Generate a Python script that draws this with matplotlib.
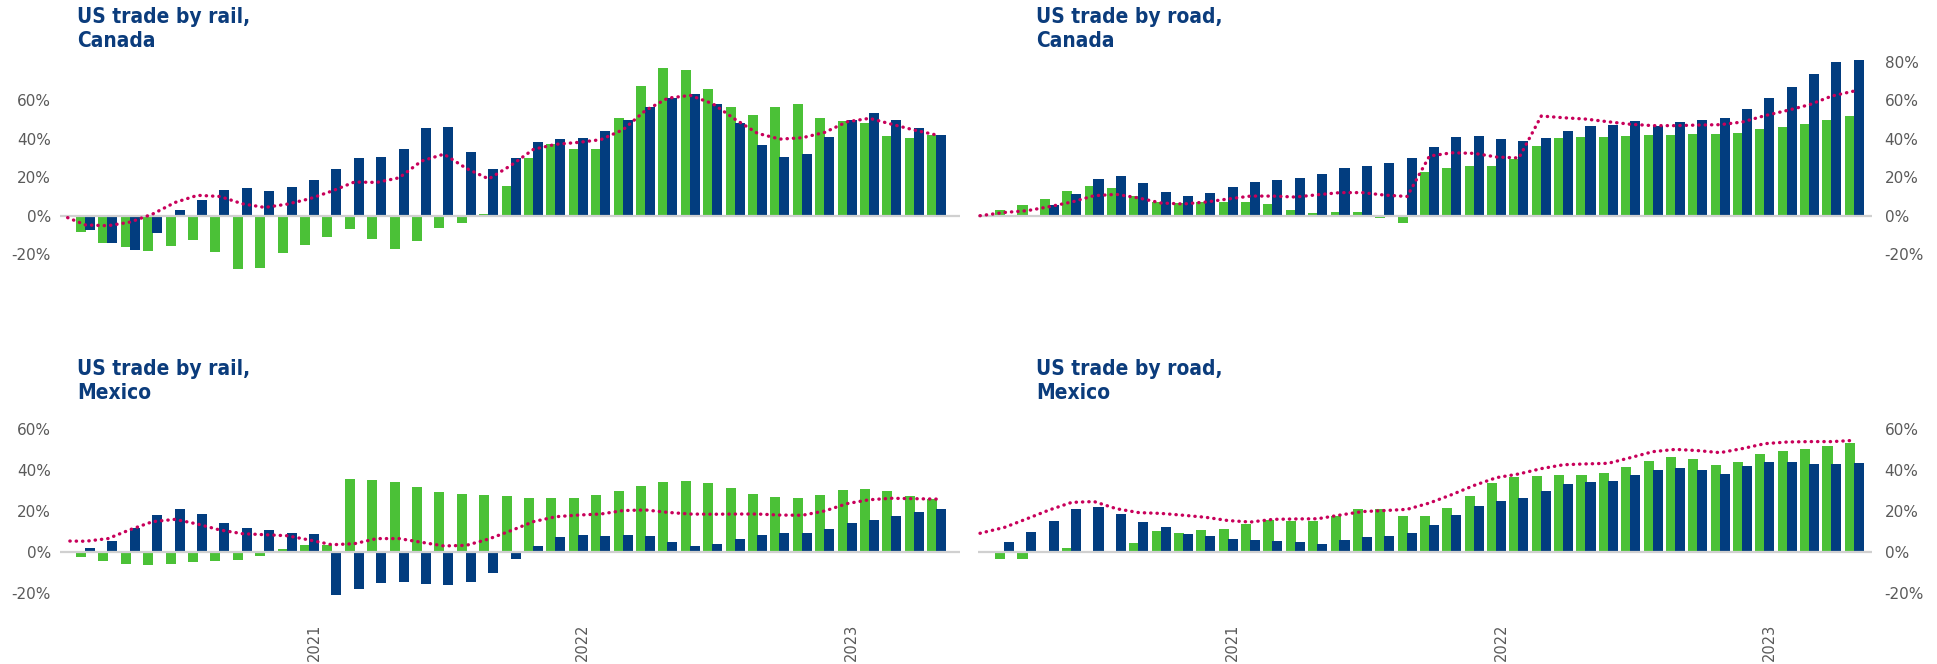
import numpy as np
import pandas as pd
import matplotlib
matplotlib.use("Agg")
import matplotlib.pyplot as plt

# months shown as bar pairs (Mar 2020 - May 2023)
months = pd.date_range("2020-03-01", "2023-05-01", freq="MS")

# US trade by rail, Canada (% change)
rail_ca_green = [-8.5, -14.2, -16.3, -18.4, -15.8, -12.6, -18.9, -27.7, -27.2, -19.4,
                 -15.2, -11.1, -6.9, -12.1, -17.3, -13.2, -6.4, -3.8, 0.9, 15.4,
                 30.0, 37.2, 34.6, 34.6, 50.7, 67.4, 76.7, 75.7, 65.8, 56.5,
                 52.3, 56.5, 58.0, 50.7, 49.2, 48.1, 41.4, 40.4, 41.9]
rail_ca_navy = [-7.4, -14.2, -17.8, -9.0, 2.9, 8.1, 13.3, 14.4, 12.8, 14.9,
                18.5, 24.2, 30.0, 30.5, 34.6, 45.5, 46.1, 33.1, 24.2, 30.0,
                38.3, 39.8, 40.4, 44.0, 49.7, 56.5, 61.1, 63.2, 58.0, 48.1,
                36.7, 30.5, 32.0, 40.9, 49.7, 53.3, 49.7, 45.5, 41.9]
rail_ca_line = [-1.0, -4.8, -5.2, -3.3, 0.9, 6.9, 10.6, 10.0, 6.2, 4.3, 6.0,
                8.8, 12.8, 17.5, 17.3, 19.7, 28.4, 32.0, 24.6, 19.1, 26.2,
                34.5, 37.1, 38.1, 39.5, 44.7, 54.7, 61.1, 62.5, 58.2, 50.1,
                42.8, 39.8, 40.5, 43.3, 48.8, 50.6, 47.5, 44.5, 41.9]

# US trade by road, Canada
road_ca_green = [2.8, 5.4, 8.5, 12.6, 15.2, 14.2, 10.0, 6.9, 6.4, 6.9,
                 6.9, 6.9, 5.9, 2.8, 1.2, 1.7, 1.7, -1.2, -4.0, 22.5,
                 24.6, 25.6, 25.6, 29.3, 36.0, 40.2, 40.7, 40.7, 41.2, 41.7,
                 41.7, 42.3, 42.3, 42.8, 44.9, 45.9, 47.5, 49.5, 51.6]
road_ca_navy = [-0.6, 0.3, 5.4, 11.1, 18.9, 20.4, 16.8, 12.1, 10.0, 11.6,
                14.7, 17.3, 18.4, 19.4, 21.5, 24.6, 25.6, 27.2, 29.8, 35.5,
                40.7, 41.2, 39.7, 38.6, 40.2, 43.8, 46.4, 46.9, 49.0, 46.4,
                48.5, 49.5, 50.6, 55.3, 61.0, 66.7, 73.4, 79.7, 80.7]
road_ca_line = [0.0, 1.7, 2.6, 4.7, 7.1, 10.4, 11.1, 9.2, 6.6, 6.1, 7.1,
                8.7, 10.2, 10.2, 9.7, 10.9, 12.0, 12.0, 10.7, 10.0, 31.0,
                32.7, 32.4, 30.5, 30.0, 51.8, 50.9, 50.2, 48.8, 47.5, 46.8,
                46.8, 47.1, 47.3, 48.7, 52.0, 54.7, 57.7, 62.2, 64.8]

# US trade by rail, Mexico
rail_mx_green = [-2.4, -4.4, -5.9, -6.4, -5.9, -4.9, -4.4, -3.9, -2.0, 1.3,
                 3.3, 3.3, 35.5, 35.0, 34.1, 31.6, 29.2, 28.2, 27.7, 27.2,
                 26.2, 26.2, 26.2, 27.7, 29.7, 32.1, 34.1, 34.6, 33.6, 31.1,
                 28.2, 26.7, 26.2, 27.7, 30.2, 30.6, 29.7, 27.2, 25.7]
rail_mx_navy = [1.8, 5.2, 11.6, 17.9, 20.9, 18.4, 14.0, 11.6, 10.6, 9.1,
                8.6, -21.2, -18.3, -15.3, -14.8, -15.8, -16.3, -14.8, -10.4, -3.6,
                2.8, 7.2, 8.2, 7.7, 8.2, 7.7, 4.7, 2.8, 3.7, 6.2,
                8.2, 9.1, 9.1, 11.1, 14.0, 15.5, 17.4, 19.4, 20.9]
rail_mx_line = [5.2, 5.1, 6.4, 10.8, 14.7, 15.8, 13.5, 10.6, 8.8, 8.3, 7.8,
                5.7, 3.4, 3.9, 6.4, 6.4, 4.6, 2.8, 3.1, 6.2, 10.3,
                14.7, 17.1, 17.9, 18.4, 20.1, 20.4, 19.2, 18.4, 18.3, 18.4,
                18.4, 17.9, 17.8, 19.9, 23.5, 25.4, 26.1, 25.9, 25.7]

# US trade by road, Mexico
road_mx_green = [-3.6, -3.6, 0.3, 1.8, 0.3, 0.3, 4.2, 10.1, 9.1, 10.6,
                 11.1, 13.5, 15.5, 15.0, 15.0, 17.4, 20.9, 20.9, 17.4, 17.4,
                 21.4, 27.2, 33.6, 36.5, 37.0, 37.5, 37.5, 38.5, 41.4, 44.3,
                 46.3, 45.3, 42.4, 43.8, 47.8, 49.2, 50.2, 51.7, 53.1]
road_mx_navy = [4.7, 9.6, 15.0, 20.9, 21.8, 18.4, 14.5, 12.1, 8.6, 7.7,
                6.2, 5.7, 5.2, 4.7, 3.7, 5.7, 7.2, 7.7, 9.1, 13.0,
                17.9, 22.3, 24.8, 26.2, 29.7, 33.1, 34.1, 34.6, 37.5, 39.9,
                40.9, 39.9, 38.0, 41.9, 43.8, 43.8, 42.9, 42.9, 43.4]
road_mx_line = [9.0, 11.9, 16.1, 20.4, 24.1, 24.5, 21.0, 19.1, 18.7, 17.8, 16.8,
                15.2, 14.5, 15.8, 16.0, 16.1, 17.9, 19.6, 20.1, 20.7, 23.8,
                27.9, 32.4, 36.2, 38.0, 40.6, 42.5, 42.9, 43.2, 46.0, 48.9,
                50.0, 49.4, 48.4, 50.4, 52.8, 53.6, 53.8, 53.8, 54.4]

titles = ["US trade by rail,\nCanada", "US trade by road,\nCanada",
          "US trade by rail,\nMexico", "US trade by road,\nMexico"]
year_labels = ["2021", "2022", "2023"]

GREEN = "#4bc137"
NAVY = "#023d7f"
MAGENTA = "#c8005a"
TITLE_COL = "#0b3c7c"
TICK_COL = "#5a5a5a"

W, H = 1937, 664
fig = plt.figure(figsize=(W / 100, H / 100), dpi=100)


def px_axes(x0, y0, x1, y1):
    # pixel box (top-left origin) -> axes
    return fig.add_axes([x0 / W, 1 - y1 / H, (x1 - x0) / W, (y1 - y0) / H])


x = np.arange(len(months))
year_pos = [i + 0.2 for i, m in enumerate(months) if m.month == 1]


def panel(ax, green, navy, line, line_start, ylim, yticks, right, show_years):
    ax.bar(x - 0.2, green, width=0.45, color=GREEN, zorder=2, linewidth=0)
    ax.bar(x + 0.2, navy, width=0.45, color=NAVY, zorder=2, linewidth=0)
    ax.axhline(0, color="#d0d0d0", lw=1.6, zorder=3)
    lx = np.r_[line_start, x]
    ax.plot(lx, line, color=MAGENTA, lw=2.4, linestyle=(0, (0.1, 1.8)),
            dash_capstyle="round", zorder=4)
    ax.set_ylim(*ylim)
    ax.set_yticks(yticks)
    ax.set_yticklabels([f"{t}%" for t in yticks], family="DejaVu Sans",
                       fontsize=11, color=TICK_COL)
    if right:
        ax.yaxis.tick_right()
        ax.set_xlim(-1.19, 38.79)
        ax.tick_params(axis="y", length=0, pad=9)
    else:
        ax.set_xlim(-1.14, 39.04)
        ax.tick_params(axis="y", length=0, pad=6.5)
    ax.tick_params(axis="x", length=0, pad=10)
    if show_years:
        ax.set_xticks(year_pos)
        ax.set_xticklabels(year_labels, rotation=90, family="DejaVu Sans",
                           fontsize=10.5, color=TICK_COL, va="top")
    else:
        ax.set_xticks([])
    for s in ax.spines.values():
        s.set_visible(False)
    ax.patch.set_alpha(0)


ax1 = px_axes(60, 55, 960, 290)
ax2 = px_axes(978, 55, 1872, 290)
ax3 = px_axes(60, 415, 960, 610)
ax4 = px_axes(978, 415, 1872, 610)

panel(ax1, rail_ca_green, rail_ca_navy, rail_ca_line, -0.8, (-38.6, 83.5),
      [-20, 0, 20, 40, 60], False, False)
panel(ax2, road_ca_green, road_ca_navy, road_ca_line, -1.1, (-38.6, 83.5),
      [-20, 0, 20, 40, 60, 80], True, False)
panel(ax3, rail_mx_green, rail_mx_navy, rail_mx_line, -0.7, (-28.5, 66.8),
      [-20, 0, 20, 40, 60], False, True)
panel(ax4, road_mx_green, road_mx_navy, road_mx_line, -1.1, (-28.5, 66.8),
      [-20, 0, 20, 40, 60], True, True)

for (tx, ty), t in zip([(77, 7), (1036, 7), (77, 359), (1036, 359)], titles):
    fig.text(tx / W, 1 - ty / H, t, ha="left", va="top", family="DejaVu Sans",
             stretch="condensed", fontsize=15, fontweight="bold",
             color=TITLE_COL, linespacing=1.28)

fig.savefig("out.png", dpi=100)
